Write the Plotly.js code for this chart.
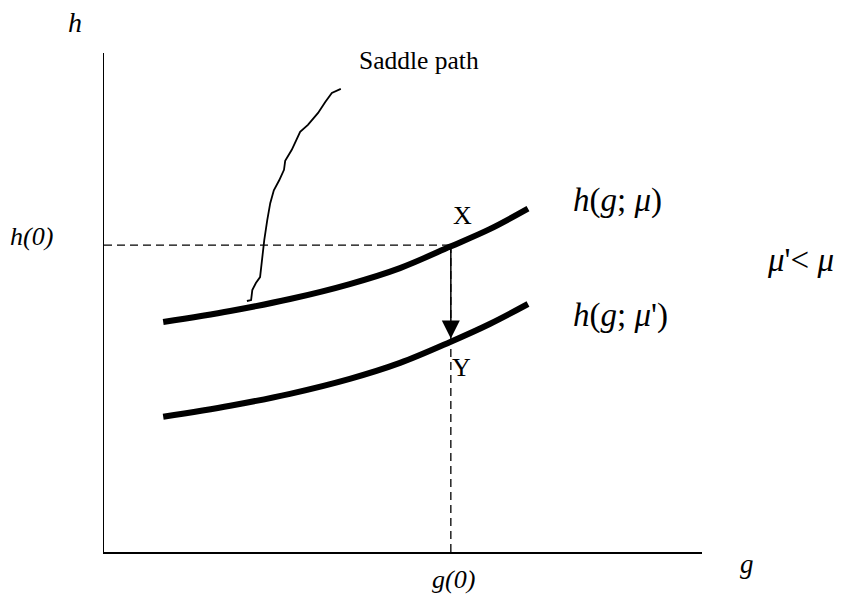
<!DOCTYPE html>
<html>
<head>
<meta charset="utf-8">
<script src="https://cdn.plot.ly/plotly-3.0.1.min.js"></script>
<style>html,body{margin:0;padding:0;background:#fff;}</style>
</head>
<body>
<div id="chart" style="width:846px;height:603px;"></div>
<script>
// Curve h(g; mu)
const gUpper = [0.99, 2.11, 3.11, 4.11, 4.95, 5.79, 6.45, 7.09];
const hUpper = [4.61, 4.83, 5.07, 5.37, 5.69, 6.12, 6.47, 6.88];
// Curve h(g; mu')
const gLower = [0.99, 2.11, 3.11, 4.11, 4.95, 5.79, 6.45, 7.09];
const hLower = [2.71, 2.93, 3.17, 3.47, 3.79, 4.21, 4.57, 4.97];
// Hand-drawn saddle path
const gSaddle = [2.39, 2.46, 2.48, 2.54, 2.61, 2.64, 2.68, 2.73, 2.78, 2.84, 2.93, 3.01, 3.03, 3.14, 3.28, 3.41, 3.58, 3.70, 3.81, 3.96];
const hSaddle = [5.03, 5.05, 5.25, 5.39, 5.51, 5.85, 6.25, 6.65, 6.99, 7.25, 7.45, 7.66, 7.84, 8.06, 8.42, 8.56, 8.80, 9.02, 9.20, 9.28];
// Initial point
const g0 = 5.80;
const h0 = 6.15;
const hY = 4.28;
// Labels
const axisLabels = {h: '<i>h</i>', g: '<i>g</i>', h0: '<i>h(0)</i>', g0: '<i>g(0)</i>'};

const serif = '"Liberation Serif", "Times New Roman", serif';
const X_MAX = 10, Y_MAX = 10;

const traces = [
  {x: gUpper, y: hUpper, mode: 'lines', line: {color: '#000', width: 6, shape: 'spline'}, hoverinfo: 'skip'},
  {x: gLower, y: hLower, mode: 'lines', line: {color: '#000', width: 6, shape: 'spline'}, hoverinfo: 'skip'},
  {x: gSaddle, y: hSaddle, mode: 'lines', line: {color: '#000', width: 1.8}, hoverinfo: 'skip'},
  {x: [0, g0], y: [h0, h0], mode: 'lines', line: {color: '#000', width: 1.3, dash: '8px,5px'}, hoverinfo: 'skip'},
  {x: [g0, g0], y: [0, h0], mode: 'lines', line: {color: '#000', width: 1.3, dash: '8px,5px'}, hoverinfo: 'skip'}
];

// text placed in paper coordinates (converted from data units) so it can sit outside the axes
const txt = (x, y, text, size, xanchor) => ({
  x: x / X_MAX, y: y / Y_MAX, xref: 'paper', yref: 'paper', text: text, showarrow: false,
  xanchor: xanchor || 'center', yanchor: 'middle',
  font: {family: serif, size: size, color: '#000'}
});

const annotations = [
  txt(-0.49, 10.62, axisLabels.h, 28),
  txt(-1.22, 6.33, axisLabels.h0, 26),
  txt(5.84, -0.55, axisLabels.g0, 26),
  txt(10.75, -0.24, axisLabels.g, 27),
  txt(4.23, 9.84, 'Saddle path', 25.5, 'left'),
  txt(6.00, 6.75, 'X', 26),
  txt(5.97, 3.69, 'Y', 26),
  txt(7.81, 7.05, '<i>h</i>(<i>g</i>; <i>μ</i>)', 33, 'left'),
  txt(7.81, 4.73, '<i>h</i>(<i>g</i>; <i>μ</i>\')', 33, 'left'),
  txt(11.05, 5.85, '<i>μ</i>\'&lt; <i>μ</i>', 33, 'left'),
  {x: g0, y: hY, ax: g0, ay: h0, xref: 'x', yref: 'y', axref: 'x', ayref: 'y',
   text: '', showarrow: true, arrowhead: 2, arrowsize: 2.4, arrowwidth: 1.5,
   arrowcolor: '#000', standoff: 0}
];

const layout = {
  width: 846, height: 603,
  margin: {l: 104, r: 144, t: 53, b: 51},
  paper_bgcolor: '#fff', plot_bgcolor: '#fff',
  showlegend: false,
  xaxis: {range: [0, X_MAX], showline: true, linecolor: '#000', linewidth: 1.5,
          showgrid: false, zeroline: false, showticklabels: false, ticks: ''},
  yaxis: {range: [0, Y_MAX], showline: true, linecolor: '#000', linewidth: 1.5,
          showgrid: false, zeroline: false, showticklabels: false, ticks: ''},
  annotations: annotations
};

Plotly.newPlot('chart', traces, layout, {displayModeBar: false, staticPlot: true});
</script>
</body>
</html>
